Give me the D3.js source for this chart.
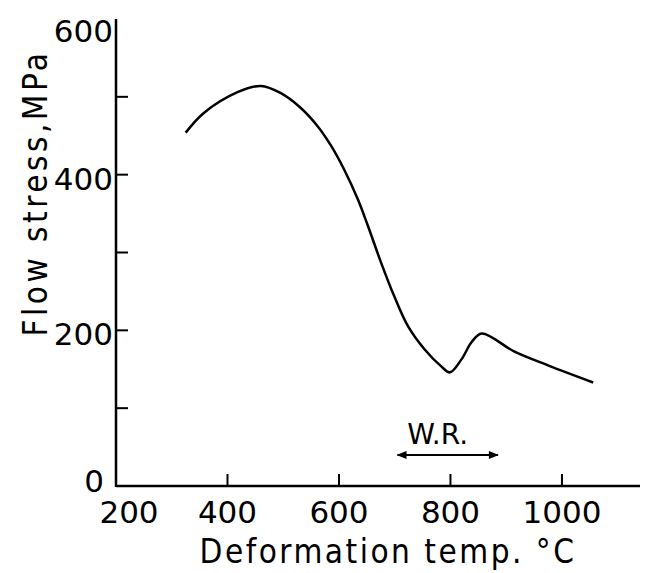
<!DOCTYPE html>
<html>
<head>
<meta charset="utf-8">
<script src="https://cdn.jsdelivr.net/npm/d3@7"></script>
<style>
  body { margin: 0; background: #fff; }
  text { font-family: "DejaVu Sans", sans-serif; fill: #000; }
  .title { font-family: "DejaVu Sans Condensed", "DejaVu Sans", sans-serif; }
</style>
</head>
<body>
<div class="chart"></div>
<script>
// curve
var temps = [325, 357, 418, 460, 495, 531, 562, 586, 609, 634, 652, 675, 699, 724, 753, 783, 799, 820, 838, 856, 914, 975, 1056];
var stress = [454, 479, 506, 514, 505, 486, 462, 437, 407, 368, 334, 288, 244, 205, 176, 154, 146, 163, 185, 196, 173, 155, 133];

var xTicks = [400, 600, 800, 1000];
var xLabels = [200, 400, 600, 800, 1000];
var yTicks = [100, 200, 300, 400, 500];
var yLabels = [0, 200, 400, 600];

var wrRange = [705, 885];

var svgWidth = 645;
var svgHeight = 573;

var svg = d3.select(".chart")
  .append("svg")
  .attr("width", svgWidth)
  .attr("height", svgHeight);

var x = d3.scaleLinear().domain([200, 1140]).range([116, 640]);
var y = d3.scaleLinear().domain([0, 600]).range([486, 19]);

var ink = "#000";

// axes lines
svg.append("line")
  .attr("x1", x(200)).attr("x2", x(1140))
  .attr("y1", y(0)).attr("y2", y(0))
  .attr("stroke", ink).attr("stroke-width", 2.5);

svg.append("line")
  .attr("x1", x(200)).attr("x2", x(200))
  .attr("y1", y(0) + 1).attr("y2", y(600))
  .attr("stroke", ink).attr("stroke-width", 2.5);

// ticks point inward
svg.selectAll(".xtick")
  .data(xTicks)
  .enter()
  .append("line")
  .attr("x1", d => x(d)).attr("x2", d => x(d))
  .attr("y1", y(0)).attr("y2", y(0) - 12)
  .attr("stroke", ink).attr("stroke-width", 2);

svg.selectAll(".ytick")
  .data(yTicks)
  .enter()
  .append("line")
  .attr("x1", x(200)).attr("x2", x(200) + 12)
  .attr("y1", d => y(d)).attr("y2", d => y(d))
  .attr("stroke", ink).attr("stroke-width", 2);

svg.selectAll(".xlab")
  .data(xLabels)
  .enter()
  .append("text")
  .attr("x", d => x(d) + (d === 200 ? 13 : 0))
  .attr("y", 523)
  .attr("text-anchor", "middle")
  .style("font-size", "31px")
  .text(d => d);

svg.selectAll(".ylab")
  .data(yLabels)
  .enter()
  .append("text")
  .attr("x", d => x(200) - (d === 0 ? 12 : 3))
  .attr("y", d => y(d) + (d === 600 ? 23 : d === 0 ? 6 : 15))
  .attr("text-anchor", "end")
  .style("font-size", "31px")
  .text(d => d);

// axis titles
svg.append("text")
  .attr("class", "title")
  .attr("x", 388)
  .attr("y", 563)
  .attr("text-anchor", "middle")
  .style("font-size", "33px")
  .style("letter-spacing", "2.5px")
  .text("Deformation temp. \u00b0C");

svg.append("text")
  .attr("class", "title")
  .attr("transform", "translate(47, 193) rotate(-90)")
  .attr("text-anchor", "middle")
  .style("font-size", "33px")
  .style("letter-spacing", "3.5px")
  .text("Flow stress,MPa");

// the curve
var line = d3.line()
  .x(d => x(d[0]))
  .y(d => y(d[1]))
  .curve(d3.curveCatmullRom.alpha(0.5));

svg.append("path")
  .datum(d3.zip(temps, stress))
  .attr("d", line)
  .attr("fill", "none")
  .attr("stroke", ink)
  .attr("stroke-width", 2.5)
  .attr("stroke-linejoin", "round");

// W.R. double arrow
var defs = svg.append("defs");
defs.append("marker")
  .attr("id", "head")
  .attr("viewBox", "0 0 10 10")
  .attr("refX", 9).attr("refY", 5)
  .attr("markerWidth", 7).attr("markerHeight", 5)
  .attr("markerUnits", "strokeWidth")
  .attr("orient", "auto-start-reverse")
  .append("path")
  .attr("d", "M0,1 L10,5 L0,9 Z")
  .attr("fill", ink);

svg.append("line")
  .attr("x1", x(wrRange[0])).attr("x2", x(wrRange[1]))
  .attr("y1", 455).attr("y2", 455)
  .attr("stroke", ink).attr("stroke-width", 2)
  .attr("marker-start", "url(#head)")
  .attr("marker-end", "url(#head)");

svg.append("text")
  .attr("x", (x(wrRange[0]) + x(wrRange[1])) / 2 - 10)
  .attr("y", 444)
  .attr("text-anchor", "middle")
  .style("font-size", "28px")
  .text("W.R.");
</script>
</body>
</html>
